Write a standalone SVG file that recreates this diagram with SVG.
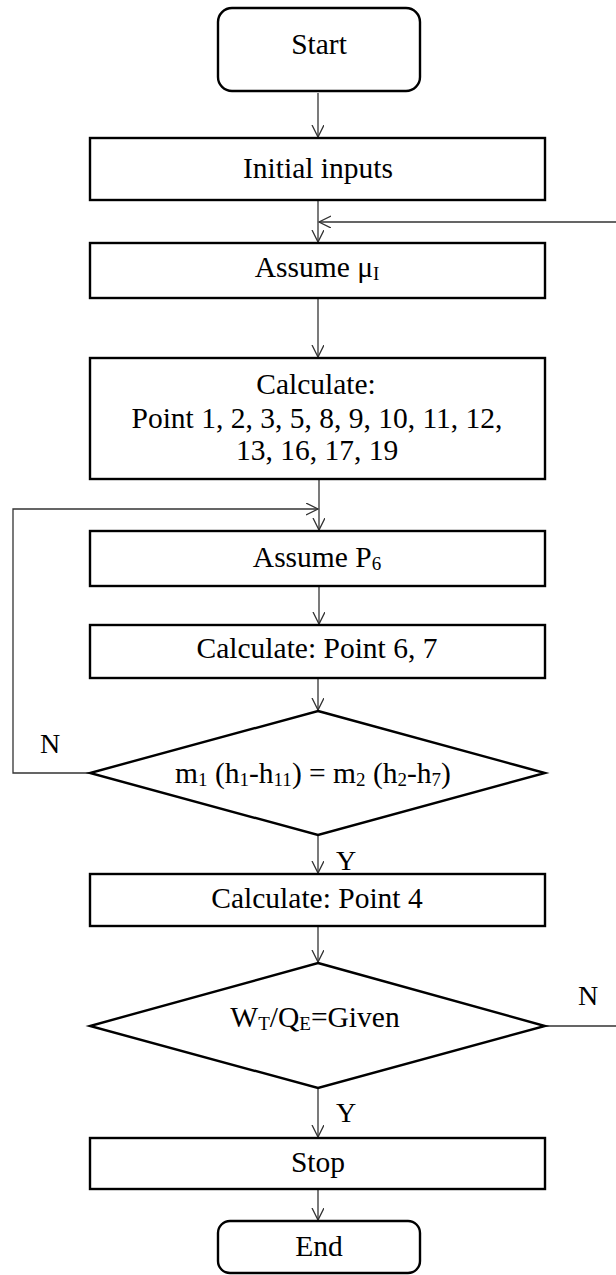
<svg xmlns="http://www.w3.org/2000/svg" width="616" height="1275" viewBox="0 0 616 1275">
<style>
.box{fill:#fff;stroke:#000;stroke-width:2.4}
.ln{fill:none;stroke:#333;stroke-width:1.3}
text{font-family:"Liberation Serif","Times New Roman",serif;font-size:29.5px;fill:#000;text-anchor:middle}
.lbl{font-size:28px}
.sub{font-size:19px}
</style>
<defs>
<marker id="arr" markerUnits="userSpaceOnUse" markerWidth="14" markerHeight="14" refX="12" refY="6" orient="auto">
<path d="M0,0 L12,6 L0,12" fill="none" stroke="#333" stroke-width="1.3"/>
</marker>
</defs>
<rect width="616" height="1275" fill="#fff"/>
<g id="connectors">
<line class="ln" x1="318" y1="93" x2="318" y2="137" marker-end="url(#arr)"/>
<line class="ln" x1="318" y1="200" x2="318" y2="242" marker-end="url(#arr)"/>
<path class="ln" d="M545,1026 H640 V222 H319" marker-end="url(#arr)"/>
<line class="ln" x1="318" y1="298" x2="318" y2="357" marker-end="url(#arr)"/>
<line class="ln" x1="319" y1="479" x2="319" y2="530" marker-end="url(#arr)"/>
<path class="ln" d="M90,773 H13 V509 H318" marker-end="url(#arr)"/>
<line class="ln" x1="319" y1="586" x2="319" y2="624" marker-end="url(#arr)"/>
<line class="ln" x1="318" y1="678" x2="318" y2="710" marker-end="url(#arr)"/>
<line class="ln" x1="318" y1="835" x2="318" y2="873" marker-end="url(#arr)"/>
<line class="ln" x1="318" y1="926" x2="318" y2="962" marker-end="url(#arr)"/>
<line class="ln" x1="318" y1="1088" x2="318" y2="1137" marker-end="url(#arr)"/>
<line class="ln" x1="318" y1="1189" x2="318" y2="1220" marker-end="url(#arr)"/>
<text class="lbl" x="50" y="753">N</text>
<text class="lbl" x="346" y="870">Y</text>
<text class="lbl" x="588" y="1005">N</text>
<text class="lbl" x="346" y="1122">Y</text>
</g>
<g id="start">
<rect class="box" x="218" y="8" width="202" height="83" rx="14"/>
<text x="319" y="54">Start</text>
</g>
<g id="initial">
<rect class="box" x="90" y="138" width="455" height="62"/>
<text x="318" y="178">Initial inputs</text>
</g>
<g id="assume-mu">
<rect class="box" x="90" y="243" width="455" height="55"/>
<text x="317" y="277">Assume μ<tspan class="sub" dy="3">I</tspan></text>
</g>
<g id="calc1">
<rect class="box" x="90" y="358" width="455" height="121"/>
<text x="316" y="394">Calculate:</text>
<text x="317" y="428">Point 1, 2, 3, 5, 8, 9, 10, 11, 12,</text>
<text x="317" y="460">13, 16, 17, 19</text>
</g>
<g id="assume-p6">
<rect class="box" x="90" y="531" width="455" height="55"/>
<text x="317" y="567">Assume P<tspan class="sub" dy="3">6</tspan></text>
</g>
<g id="calc67">
<rect class="box" x="90" y="625" width="455" height="53"/>
<text x="317" y="658">Calculate: Point 6, 7</text>
</g>
<g id="decision1">
<polygon class="box" points="318,711 545,773 318,835 90,773"/>
<text x="313" y="783">m<tspan class="sub" dy="3">1</tspan><tspan dy="-3"> (h</tspan><tspan class="sub" dy="3">1</tspan><tspan dy="-3">-h</tspan><tspan class="sub" dy="3">11</tspan><tspan dy="-3">) = m</tspan><tspan class="sub" dy="3">2</tspan><tspan dy="-3"> (h</tspan><tspan class="sub" dy="3">2</tspan><tspan dy="-3">-h</tspan><tspan class="sub" dy="3">7</tspan><tspan dy="-3">)</tspan></text>
</g>
<g id="calc4">
<rect class="box" x="90" y="874" width="455" height="52"/>
<text x="317" y="908">Calculate: Point 4</text>
</g>
<g id="decision2">
<polygon class="box" points="318,963 545,1026 318,1088 90,1026"/>
<text x="315" y="1027">W<tspan class="sub" dy="3">T</tspan><tspan dy="-3">/Q</tspan><tspan class="sub" dy="3">E</tspan><tspan dy="-3">=Given</tspan></text>
</g>
<g id="stop">
<rect class="box" x="90" y="1138" width="455" height="51"/>
<text x="318" y="1172">Stop</text>
</g>
<g id="end">
<rect class="box" x="218" y="1221" width="202" height="52" rx="12"/>
<text x="319" y="1256">End</text>
</g>
</svg>
